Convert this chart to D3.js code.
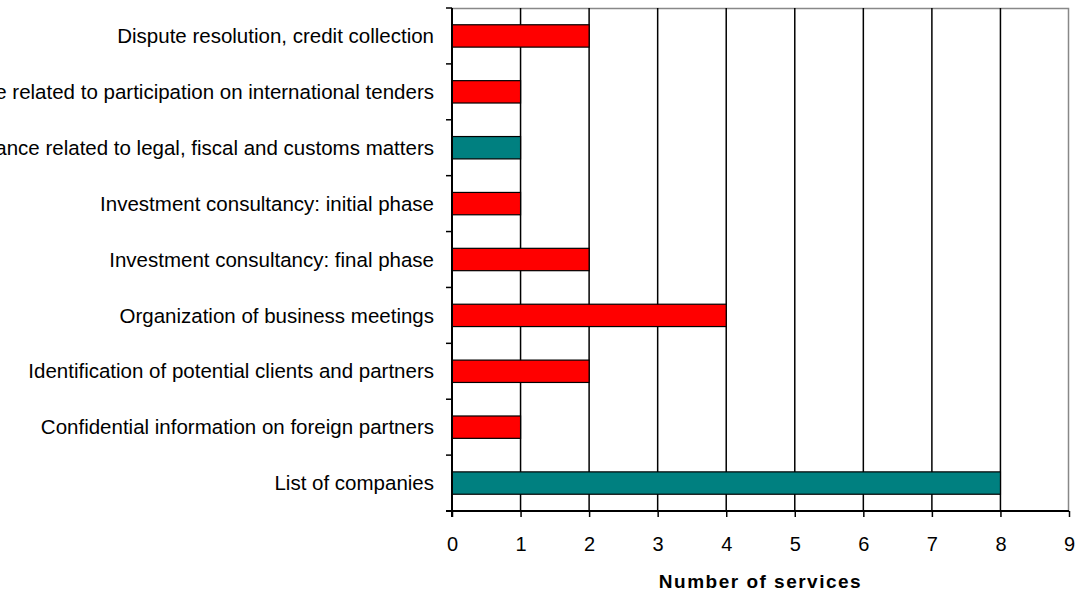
<!DOCTYPE html>
<html>
<head>
<meta charset="utf-8">
<script src="https://cdn.jsdelivr.net/npm/d3@7"></script>
<style>
  body { margin: 0; background: #fff; }
  svg { display: block; font-family: "Liberation Sans", Arial, sans-serif; }
</style>
</head>
<body>
<svg id="chart" width="1077" height="598"></svg>
<script>
// data, top to bottom as drawn
const categories = [
  'Dispute resolution, credit collection',
  'Assistance related to participation on international tenders',
  'Assistance related to legal, fiscal and customs matters',
  'Investment consultancy: initial phase',
  'Investment consultancy: final phase',
  'Organization of business meetings',
  'Identification of potential clients and partners',
  'Confidential information on foreign partners',
  'List of companies'
];
const services = [2, 1, 1, 1, 2, 4, 2, 1, 8];
const highlighted = [false, false, true, false, false, false, false, false, true];
const xTicks = [0, 1, 2, 3, 4, 5, 6, 7, 8, 9];
const xTitle = 'Number of services';

const m = { l: 452, r: 8, t: 8, b: 87 };
const W = 1077, H = 598;
const w = W - m.l - m.r, h = H - m.t - m.b;

const svg = d3.select('#chart');
const g = svg.append('g').attr('transform', `translate(${m.l},${m.t})`);

const x = d3.scaleLinear().domain([0, 9]).range([0, w]);
const y = d3.scaleBand().domain(categories).range([0, h]).paddingInner(0.6).paddingOuter(0.3);
const band = d3.scaleBand().domain(categories).range([0, h]);

// plot border (gray, top + right)
g.append('path')
    .attr('d', `M0,0.5H${w - 0.5}V${h}`)
    .attr('fill', 'none')
    .attr('stroke', '#888')
    .attr('stroke-width', 1.5);

// gridlines
g.append('g')
    .selectAll('line')
    .data(xTicks.filter(d => d > 0 && d < 9))
    .join('line')
    .attr('x1', d => x(d)).attr('x2', d => x(d))
    .attr('y1', 0).attr('y2', h)
    .attr('stroke', '#000')
    .attr('stroke-width', 1.5);

// bars
g.append('g')
    .selectAll('rect')
    .data(categories)
    .join('rect')
    .attr('x', 0)
    .attr('y', d => y(d))
    .attr('width', (d, i) => x(services[i]))
    .attr('height', y.bandwidth())
    .attr('fill', (d, i) => highlighted[i] ? '#008080' : '#ff0000')
    .attr('stroke', '#000')
    .attr('stroke-width', 1.2);

// y axis: ticks at band boundaries
const yAx = g.append('g');
yAx.append('line')
    .attr('x1', 0).attr('x2', 0).attr('y1', 0).attr('y2', h + 6)
    .attr('stroke', '#000').attr('stroke-width', 2);
yAx.selectAll('line.tk')
    .data(d3.range(categories.length + 1))
    .join('line')
    .attr('class', 'tk')
    .attr('x1', -6).attr('x2', 0)
    .attr('y1', i => i * band.step()).attr('y2', i => i * band.step())
    .attr('stroke', '#000').attr('stroke-width', 1.5);
// long labels run off the left edge, as in the original
yAx.selectAll('text')
    .data(categories)
    .join('text')
    .attr('x', -18)
    .attr('y', d => band(d) + band.bandwidth() / 2)
    .attr('dy', '0.35em')
    .attr('text-anchor', 'end')
    .attr('font-size', 20.5)
    .attr('fill', '#000')
    .text(d => d);

// x axis
const xAx = g.append('g')
    .attr('transform', `translate(0,${h})`)
    .call(d3.axisBottom(x).tickValues(xTicks).tickSize(6).tickPadding(20).tickSizeOuter(0));
xAx.select('.domain').attr('stroke', '#000').attr('stroke-width', 2).attr('d', `M-6,0H${w}`);
xAx.selectAll('.tick line').attr('stroke', '#000').attr('stroke-width', 1.5);
xAx.selectAll('.tick text')
    .attr('font-size', 20)
    .attr('font-family', '"Liberation Sans", Arial, sans-serif')
    .attr('fill', '#000');

svg.append('text')
    .attr('x', m.l + w / 2)
    .attr('y', 588)
    .attr('text-anchor', 'middle')
    .attr('font-size', 19)
    .attr('font-weight', 'bold')
    .attr('letter-spacing', 1.5)
    .text(xTitle);
</script>
</body>
</html>
